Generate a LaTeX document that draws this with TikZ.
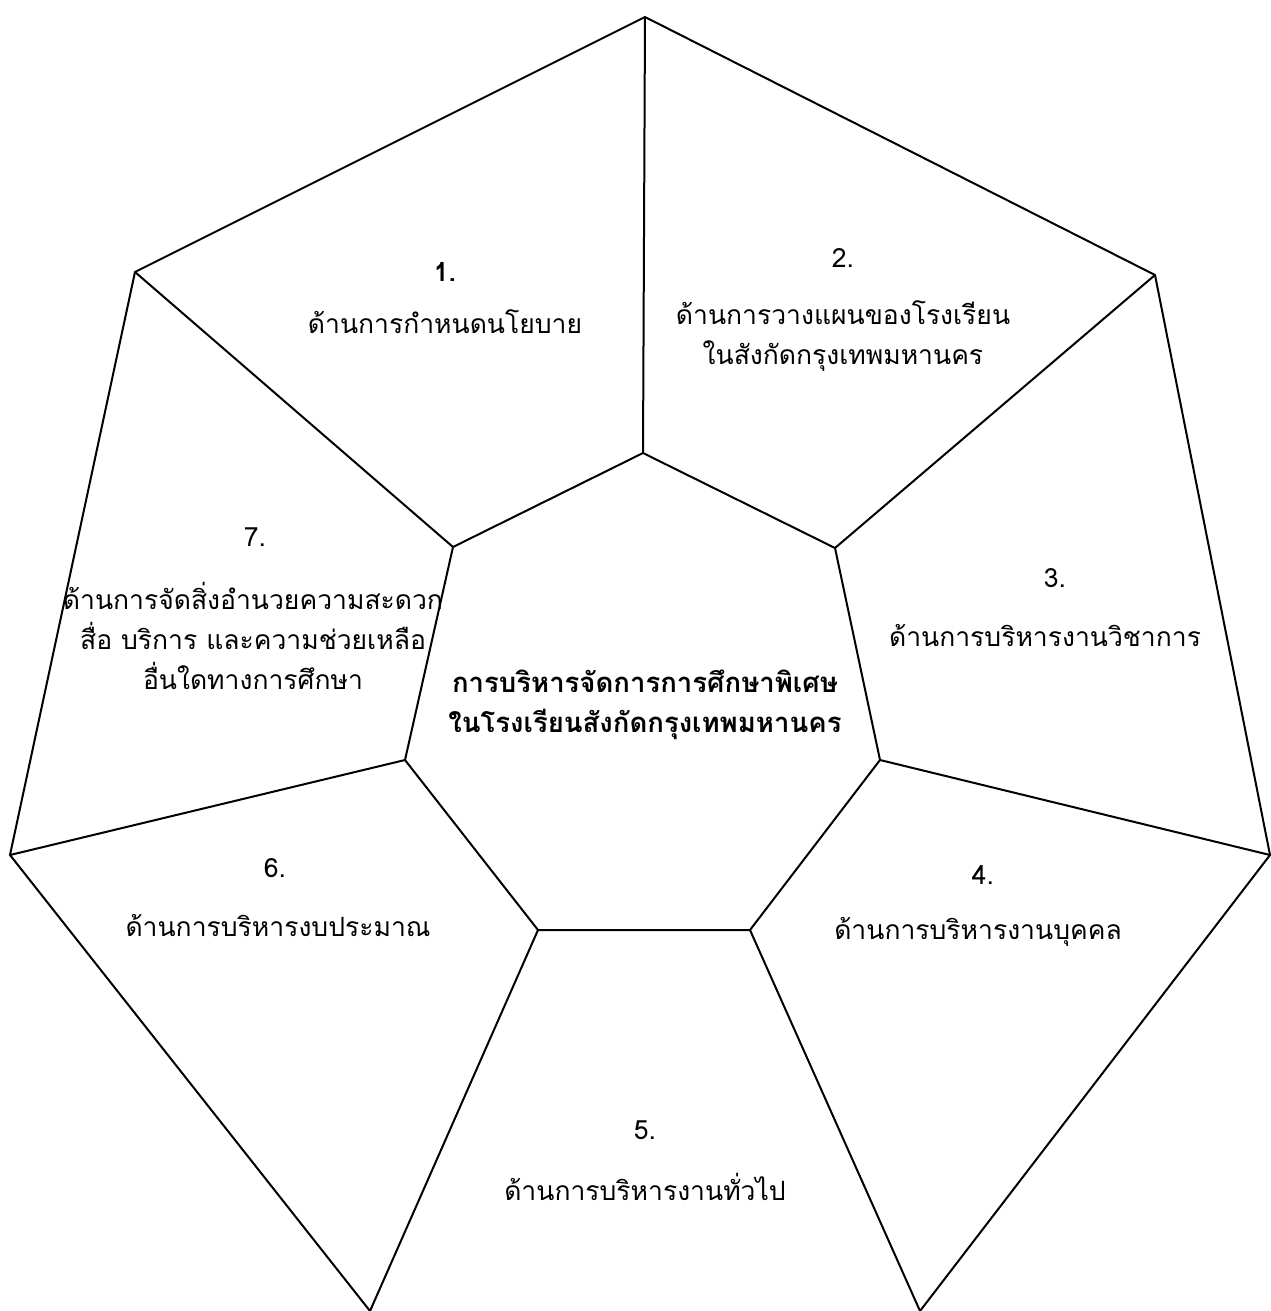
\documentclass[tikz,border=0pt]{standalone}
\usepackage{fontspec}
\newfontfamily\thaifont[Script=Thai]{Loma}
\begin{document}
\begin{tikzpicture}[x=1pt,y=-1pt,
  edge/.style={line width=2pt,line join=miter},
  lbl/.style={font=\thaifont\fontsize{26.5}{40}\selectfont,align=center,inner sep=0pt},
  num/.style={font=\thaifont\fontsize{26.5}{30}\selectfont,inner sep=0pt}]
\useasboundingbox (0,0) rectangle (1270,1311);
% outer vertices
\coordinate (O1) at (645,17);
\coordinate (O2) at (1155,275);
\coordinate (O3) at (1270,855);
\coordinate (O4) at (920,1311);
\coordinate (O5) at (370,1311);
\coordinate (O6) at (10,855);
\coordinate (O7) at (135,272);
% inner vertices
\coordinate (I1) at (643,453);
\coordinate (I2) at (835,548);
\coordinate (I3) at (880,760);
\coordinate (I4) at (750,930);
\coordinate (I5) at (538,930);
\coordinate (I6) at (405,760);
\coordinate (I7) at (453,547);
\draw[edge] (O4) -- (O3) -- (O2) -- (O1) -- (O7) -- (O6) -- (O5);
\draw[edge] (I1) -- (I2) -- (I3) -- (I4) -- (I5) -- (I6) -- (I7) -- cycle;
\foreach \i in {1,...,7} \draw[edge] (O\i) -- (I\i);
% labels
\node[num,font=\thaifont\bfseries\fontsize{26.5}{30}\selectfont] (n1) at (445,272) {1.};
\node[lbl] (t1) at (445,322) {ด้านการกำหนดนโยบาย};
\node[num] (n2) at (843,258) {2.};
\node[lbl] (t2) at (843,336) {ด้านการวางแผนของโรงเรียน\\ในสังกัดกรุงเทพมหานคร};
\node[num] (n3) at (1055,578) {3.};
\node[lbl] (t3) at (1045,635) {ด้านการบริหารงานวิชาการ};
\node[num] (n4) at (983,875) {4.};
\node[lbl] (t4) at (978,932) {ด้านการบริหารงานบุคคล};
\node[num] (n5) at (645,1130) {5.};
\node[lbl] (t5) at (645,1187) {ด้านการบริหารงานทั่วไป};
\node[num] (n6) at (275,868) {6.};
\node[lbl] (t6) at (278,925) {ด้านการบริหารงบประมาณ};
\node[num] (n7) at (255,537) {7.};
\node[lbl] (t7) at (253,636) {ด้านการจัดสิ่งอำนวยความสะดวก\\สื่อ บริการ และความช่วยเหลือ\\อื่นใดทางการศึกษา};
\node[lbl,font=\thaifont\bfseries\fontsize{27.5}{40}\selectfont] (c) at (645,705) {การบริหารจัดการการศึกษาพิเศษ\\ในโรงเรียนสังกัดกรุงเทพมหานคร};
\end{tikzpicture}
\end{document}
